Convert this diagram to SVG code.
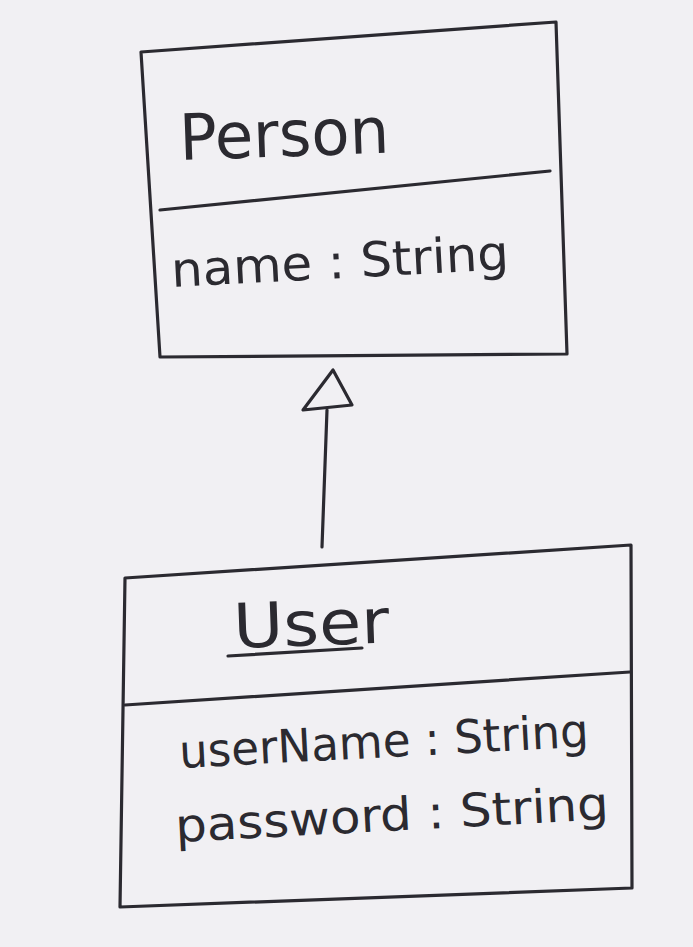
<svg xmlns="http://www.w3.org/2000/svg" width="693" height="947" viewBox="0 0 693 947">
<style>
.ln{fill:none;stroke:#2b2a30;stroke-width:3.2;stroke-linecap:round;stroke-linejoin:round}
.t{font-family:"DejaVu Sans","Liberation Sans",sans-serif;fill:#2b2a30}
</style>
<rect width="693" height="947" fill="#f1f0f3"/>
<g id="person">
<path class="ln" d="M141,52 L556,22 L567,354 L160,357 Z"/>
<path class="ln" d="M160,210 L550,171"/>
<text class="t" x="180" y="160" font-size="64" textLength="210" lengthAdjust="spacingAndGlyphs" transform="rotate(-2 180 160)">Person</text>
<text class="t" x="172" y="287" font-size="48" textLength="338" lengthAdjust="spacingAndGlyphs" transform="rotate(-3 172 287)">name : String</text>
</g>
<g id="user">
<path class="ln" d="M125,578 L631,545 L632,888 L120,907 Z"/>
<path class="ln" d="M125,705 L630,672"/>
<text class="t" x="234" y="648" font-size="62" textLength="156" lengthAdjust="spacingAndGlyphs" transform="rotate(-2 234 648)">User</text>
<path class="ln" d="M228,656 L362,648" stroke-width="2.5"/>
<text class="t" x="180" y="768" font-size="46" textLength="410" lengthAdjust="spacingAndGlyphs" transform="rotate(-3 180 768)">userName : String</text>
<text class="t" x="176" y="842" font-size="46" textLength="434" lengthAdjust="spacingAndGlyphs" transform="rotate(-3 176 842)">password : String</text>
</g>
<g id="connectors">
<path class="ln" d="M327,410 L322,547"/>
<path class="ln" d="M333,370 L303,410 L352,405 Z"/>
</g>
</svg>
